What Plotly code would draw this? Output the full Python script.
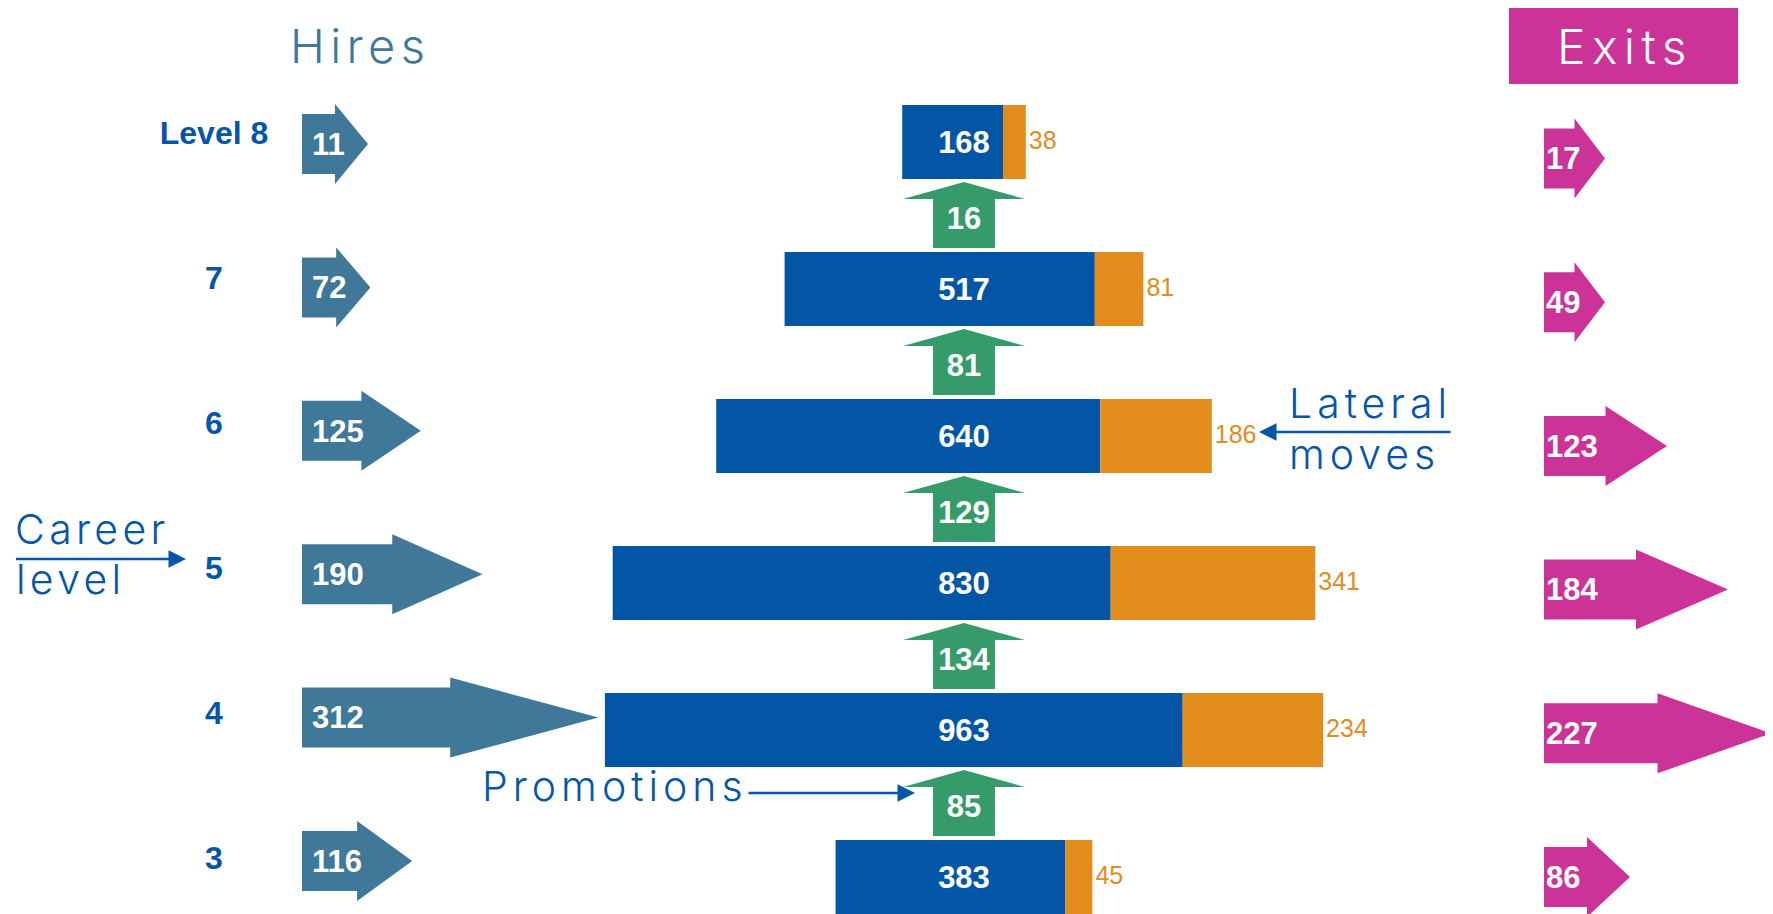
import plotly.graph_objects as go

# ---------------- data ----------------
levels = ["Level 8", "7", "6", "5", "4", "3"]
hires = [11, 72, 125, 190, 312, 116]
headcount = [168, 517, 640, 830, 963, 383]
lateral_moves = [38, 81, 186, 341, 234, 45]
promotions = [16, 81, 129, 134, 85]      # from the level below into each level (8..4)
exits = [17, 49, 123, 184, 227, 86]

# ---------------- style / layout constants ----------------
W, H = 1773, 914
OFF = 8  # page body margin: axes are expressed in page pixels
BLUE = "#0356a5"
ORANGE = "#e28c1c"
GREEN = "#369b6b"
STEEL = "#3f7898"
MAGENTA = "#cc3399"
LABEL_BLUE = "#0556a8"
BOLD = "Liberation Sans, Arial, sans-serif"
LIGHT = "Inter, Lato, Open Sans, sans-serif"
LW = 300
TXT_DY = 3  # small downward nudge so text sits on the visual centre

n = len(levels)
bar_y = [142 + 147 * i for i in range(n)]
label_y = [136 + 145 * i for i in range(n)]
hire_y = [144 + 143.4 * i for i in range(n)]
exit_y = [158.5 + 143.7 * i for i in range(n)]
BAR_H = 74

PX_PER_UNIT = 0.6
CENTER_PX = 964
x2_range = [-(CENTER_PX - OFF) / PX_PER_UNIT, (W - (CENTER_PX - OFF)) / PX_PER_UNIT]


def arrow_right(x0, length, yc, body_half=30, head_half=40):
    xm = x0 + length / 2
    xt = x0 + length
    xs = [x0, xm, xm, xt, xm, xm, x0, x0]
    ys = [yc - body_half, yc - body_half, yc - head_half, yc,
          yc + head_half, yc + body_half, yc + body_half, yc - body_half]
    return xs, ys


def arrow_up(xc, y_tip, y_base, head_h=17, head_half=61, body_half=31):
    yh = y_tip + head_h
    xs = [xc - body_half, xc - body_half, xc - head_half, xc, xc + head_half,
          xc + body_half, xc + body_half, xc - body_half]
    ys = [y_base, yh, yh, y_tip, yh, yh, y_base, y_base]
    return xs, ys


def join(polys):
    X, Y = [], []
    for xs, ys in polys:
        X += xs + [None]
        Y += ys + [None]
    return X, Y


fig = go.Figure()

# ---- main stacked bars (headcount + lateral moves), centred on total ----
totals = [h + l for h, l in zip(headcount, lateral_moves)]
bases = [-t / 2 for t in totals]
fig.add_trace(go.Bar(orientation="h", x=headcount, base=bases, y=bar_y, width=BAR_H,
                     marker=dict(color=BLUE, line=dict(width=0)),
                     xaxis="x2", yaxis="y", hoverinfo="skip"))
fig.add_trace(go.Bar(orientation="h", x=lateral_moves,
                     base=[b + h for b, h in zip(bases, headcount)], y=bar_y, width=BAR_H,
                     marker=dict(color=ORANGE, line=dict(width=0)),
                     xaxis="x2", yaxis="y", hoverinfo="skip"))
fig.add_trace(go.Scatter(x=[0] * n, y=[y + TXT_DY for y in bar_y], mode="text",
                         text=[str(v) for v in headcount], textposition="middle center",
                         textfont=dict(family=BOLD, size=31, color="white", weight="bold"),
                         xaxis="x2", yaxis="y", hoverinfo="skip"))
fig.add_trace(go.Scatter(x=[t / 2 + 3 / PX_PER_UNIT for t in totals], y=[y + 1 for y in bar_y],
                         mode="text", text=[str(v) for v in lateral_moves],
                         textposition="middle right",
                         textfont=dict(family=BOLD, size=25, color=ORANGE),
                         xaxis="x2", yaxis="y", hoverinfo="skip"))

# ---- promotion arrows (green, upward between bars) ----
polys = []
for i, p in enumerate(promotions):
    tip = bar_y[i] + BAR_H / 2 + 3
    base = bar_y[i + 1] - BAR_H / 2 - 4
    polys.append(arrow_up(CENTER_PX, tip, base))
X, Y = join(polys)
fig.add_trace(go.Scatter(x=X, y=Y, mode="lines", fill="toself", fillcolor=GREEN,
                         line=dict(width=0, color=GREEN), hoverinfo="skip"))
fig.add_trace(go.Scatter(
    x=[CENTER_PX] * len(promotions),
    y=[(bar_y[i] + BAR_H / 2 + 20 + bar_y[i + 1] - BAR_H / 2 - 4) / 2 - 2 for i in range(len(promotions))],
    mode="text", text=[str(v) for v in promotions], textposition="middle center",
    textfont=dict(family=BOLD, size=31, color="white", weight="bold"), hoverinfo="skip"))

# ---- hires arrows ----
HIRE_X0 = 302
polys = [arrow_right(HIRE_X0, max(66, 0.95 * v), y) for v, y in zip(hires, hire_y)]
X, Y = join(polys)
fig.add_trace(go.Scatter(x=X, y=Y, mode="lines", fill="toself", fillcolor=STEEL,
                         line=dict(width=0, color=STEEL), hoverinfo="skip"))
fig.add_trace(go.Scatter(x=[HIRE_X0 + 10] * n, y=[y + TXT_DY for y in hire_y], mode="text",
                         text=[str(v) for v in hires], textposition="middle right",
                         textfont=dict(family=BOLD, size=31, color="white", weight="bold"),
                         hoverinfo="skip"))

# ---- exits arrows ----
EXIT_X0 = 1544
polys = [arrow_right(EXIT_X0, max(61, 1.0 * v), y) for v, y in zip(exits, exit_y)]
X, Y = join(polys)
fig.add_trace(go.Scatter(x=X, y=Y, mode="lines", fill="toself", fillcolor=MAGENTA,
                         line=dict(width=0, color=MAGENTA), hoverinfo="skip"))
fig.add_trace(go.Scatter(x=[EXIT_X0 + 2] * n, y=[y + TXT_DY for y in exit_y], mode="text",
                         text=[str(v) for v in exits], textposition="middle right",
                         textfont=dict(family=BOLD, size=31, color="white", weight="bold"),
                         hoverinfo="skip"))

# ---- level labels ----
fig.add_trace(go.Scatter(x=[214] * n, y=label_y, mode="text", text=levels,
                         textposition="middle center",
                         textfont=dict(family=BOLD, size=32, color=LABEL_BLUE, weight="bold"),
                         hoverinfo="skip"))


def spaced(t, sp=5):
    return f'<span style="letter-spacing:{sp}px">{t}</span>'


ann = []
ann.append(dict(x=360, y=45, text=spaced("Hires", 5.4), showarrow=False,
                font=dict(family=LIGHT, size=47, color=STEEL, weight=LW)))
ann.append(dict(x=1625, y=46, text=spaced("Exits", 6.4), showarrow=False,
                font=dict(family=LIGHT, size=48, color="white", weight=LW)))
ann.append(dict(x=13, y=529, text=spaced("Career", 4.3), showarrow=False, xanchor="left",
                font=dict(family=LIGHT, size=41, color=LABEL_BLUE, weight=LW)))
ann.append(dict(x=14, y=579, text=spaced("level", 4.3), showarrow=False, xanchor="left",
                font=dict(family=LIGHT, size=41, color=LABEL_BLUE, weight=LW)))
ann.append(dict(x=480, y=786, text=spaced("Promotions"), showarrow=False, xanchor="left",
                font=dict(family=LIGHT, size=41, color=LABEL_BLUE, weight=LW)))
ann.append(dict(x=1287, y=403, text=spaced("Lateral"), showarrow=False, xanchor="left",
                font=dict(family=LIGHT, size=41, color=LABEL_BLUE, weight=LW)))
ann.append(dict(x=1287, y=454, text=spaced("moves"), showarrow=False, xanchor="left",
                font=dict(family=LIGHT, size=41, color=LABEL_BLUE, weight=LW)))
# pointer arrows
for (tx, ty, hx, hy) in [(14.5, 559, 186, 559), (747, 793, 915, 793), (1452, 432, 1259, 432)]:
    ann.append(dict(x=hx, y=hy, ax=tx, ay=ty, xref="x", yref="y", axref="x", ayref="y",
                    text="", showarrow=True, arrowhead=2, arrowsize=1.4, arrowwidth=2.5,
                    arrowcolor=LABEL_BLUE))

fig.update_layout(
    width=W, height=H, margin=dict(l=0, r=0, t=0, b=0),
    paper_bgcolor="white", plot_bgcolor="white", showlegend=False,
    barmode="overlay",
    xaxis=dict(range=[OFF, W + OFF], visible=False, fixedrange=True),
    xaxis2=dict(range=x2_range, overlaying="x", anchor="y", visible=False, fixedrange=True),
    yaxis=dict(range=[H + OFF, OFF], visible=False, fixedrange=True),
    shapes=[dict(type="rect", xref="x", yref="y", x0=1509, x1=1738, y0=7, y1=84,
                 fillcolor=MAGENTA, line=dict(width=0), layer="below")],
    annotations=ann,
)

fig.write_html("out.html")
